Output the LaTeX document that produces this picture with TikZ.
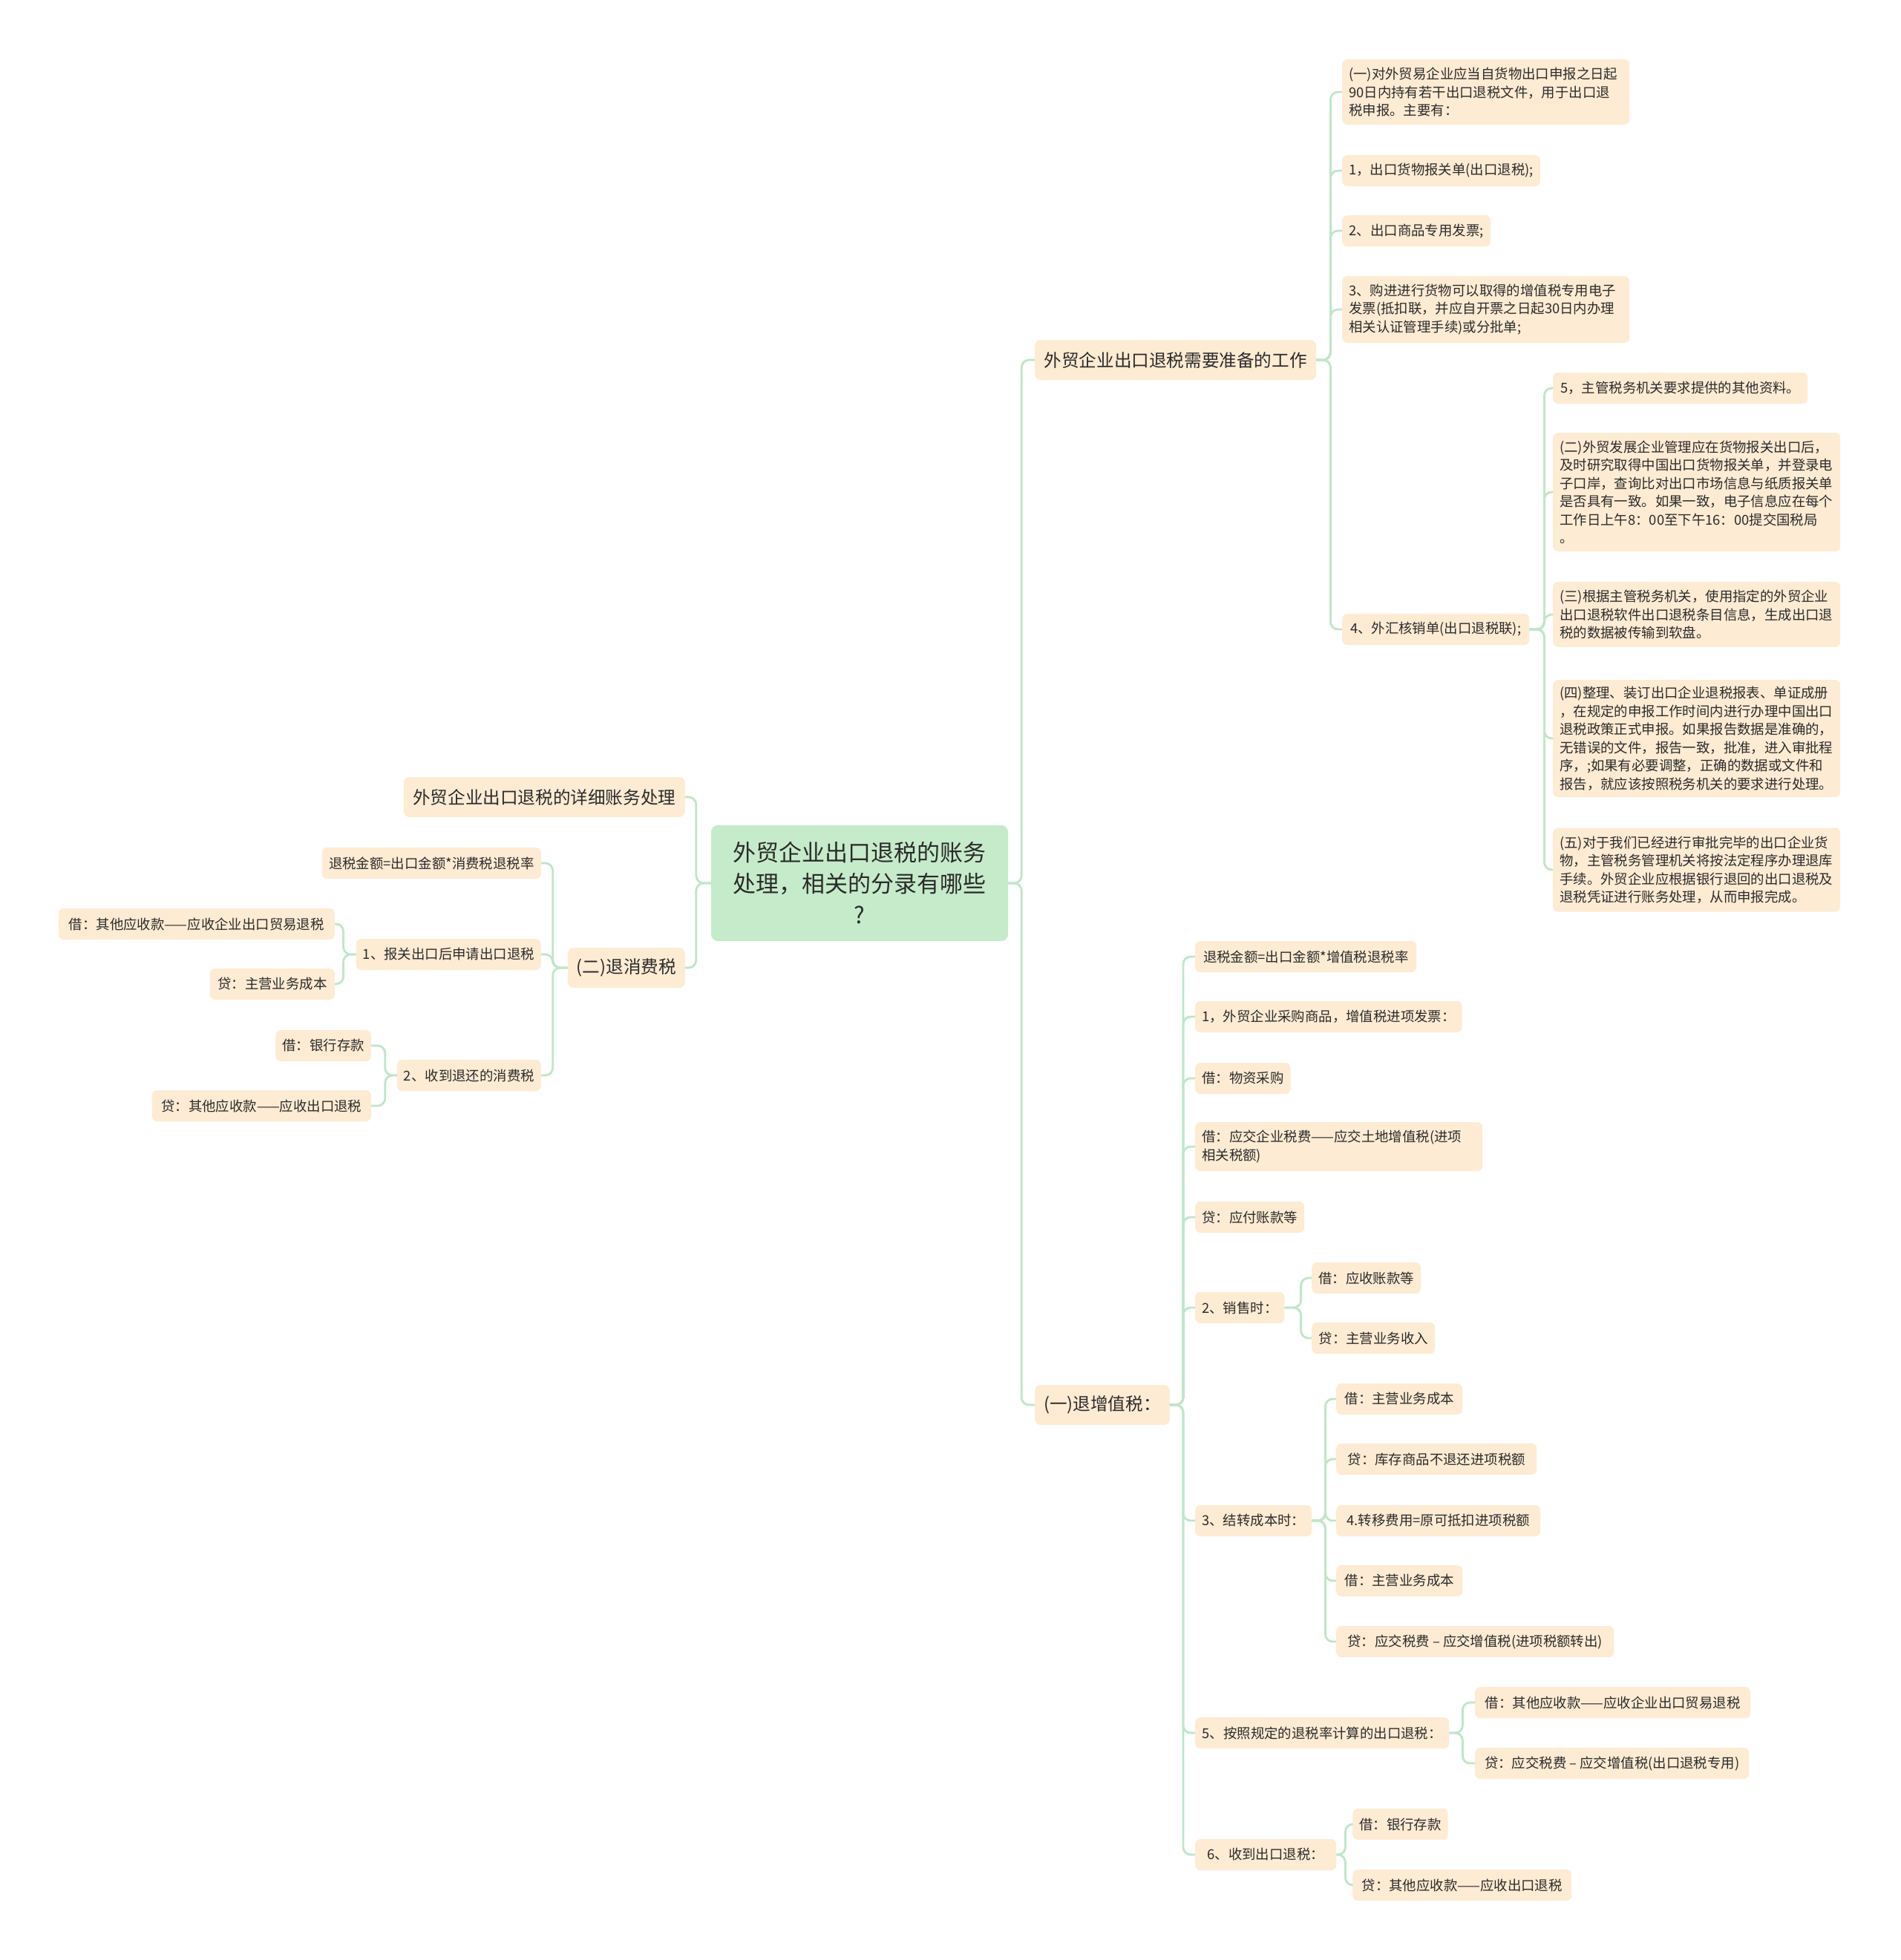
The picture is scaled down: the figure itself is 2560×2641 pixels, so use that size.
\documentclass[tikz,border=0pt]{standalone}
\usepackage{fontspec}
\setmainfont{Noto Sans CJK SC}
\definecolor{linec}{HTML}{BFE6C8}
\definecolor{leafc}{HTML}{FDEBD3}
\definecolor{rootc}{HTML}{C6EBCA}
\definecolor{txtc}{HTML}{2B2B2B}
\newcommand\leaffont{\fontsize{18.4}{24.5}\selectfont}
\newcommand\branchfont{\fontsize{23.6}{30}\selectfont}
\newcommand\rootfont{\fontsize{31}{42}\selectfont}
\tikzset{
  leaf/.style={fill=leafc, rounded corners=7pt, inner xsep=9pt, inner ysep=0pt,
    minimum height=42pt, text=txtc, font=\leaffont},
  rl/.style={leaf, anchor=west},
  ll/.style={leaf, anchor=east},
  multi/.style={align=left, text width=#1},
  branch/.style={fill=leafc, rounded corners=8pt, inner xsep=12pt, inner ysep=0pt,
    minimum height=54pt, text=txtc, font=\branchfont},
  rootbox/.style={fill=rootc, rounded corners=9pt, inner xsep=9pt, inner ysep=0pt,
    text=txtc, font=\rootfont, align=center},
  conn/.style={draw=linec, line width=2.8pt, rounded corners=10pt},
}
\begin{document}
\begin{tikzpicture}[x=1pt,y=-1pt]
\fill[white] (0,0) rectangle (2560,2641);
\useasboundingbox (0,0) rectangle (2560,2641);

% root
\node[rootbox, minimum width=400pt, minimum height=156pt, text width=382pt] (root) at (1158,1190)
  {外贸企业出口退税的账务\\处理，相关的分录有哪些\\?};

% main branches
\node[branch, anchor=west, minimum width=379pt] (A) at (1394,485) {外贸企业出口退税需要准备的工作};
\node[branch, anchor=west, minimum width=181pt] (B) at (1394,1893) {(一)退增值税：};
\node[branch, anchor=east, minimum width=379pt] (L1) at (923,1074) {外贸企业出口退税的详细账务处理};
\node[branch, anchor=east, minimum width=157pt] (L2) at (923,1304) {(二)退消费税};

% A children
\node[rl, minimum width=387pt, minimum height=88pt, multi=369pt] (n1) at (1808,124)
  {(一)对外贸易企业应当自货物出口申报之日起\\90日内持有若干出口退税文件，用于出口退\\税申报。主要有：};
\node[rl, minimum width=264pt] (n2) at (1808,230) {1，出口货物报关单(出口退税);};
\node[rl, minimum width=200pt] (n3) at (1808,311) {2、出口商品专用发票;};
\node[rl, minimum width=387pt, minimum height=90pt, multi=369pt] (n4) at (1808,417)
  {3、购进进行货物可以取得的增值税专用电子\\发票(抵扣联，并应自开票之日起30日内办理\\相关认证管理手续)或分批单;};
\node[rl, minimum width=252pt] (n5) at (1808,848) {4、外汇核销单(出口退税联);};

% n5 children
\node[rl, minimum width=343pt] (c1) at (2092,523) {5，主管税务机关要求提供的其他资料。};
\node[rl, minimum width=387pt, minimum height=160pt, multi=369pt] (c2) at (2092,663)
  {(二)外贸发展企业管理应在货物报关出口后，\\及时研究取得中国出口货物报关单，并登录电\\子口岸，查询比对出口市场信息与纸质报关单\\是否具有一致。如果一致，电子信息应在每个\\工作日上午8：00至下午16：00提交国税局\\。};
\node[rl, minimum width=387pt, minimum height=88pt, multi=369pt] (c3) at (2092,828)
  {(三)根据主管税务机关，使用指定的外贸企业\\出口退税软件出口退税条目信息，生成出口退\\税的数据被传输到软盘。};
\node[rl, minimum width=387pt, minimum height=158pt, multi=369pt] (c4) at (2092,995)
  {(四)整理、装订出口企业退税报表、单证成册\\，在规定的申报工作时间内进行办理中国出口\\退税政策正式申报。如果报告数据是准确的，\\无错误的文件，报告一致，批准，进入审批程\\序，;如果有必要调整，正确的数据或文件和\\报告，就应该按照税务机关的要求进行处理。};
\node[rl, minimum width=387pt, minimum height=113pt, multi=369pt] (c5) at (2092,1172)
  {(五)对于我们已经进行审批完毕的出口企业货\\物，主管税务管理机关将按法定程序办理退库\\手续。外贸企业应根据银行退回的出口退税及\\退税凭证进行账务处理，从而申报完成。};

% left children
\node[ll, minimum width=295pt] (lt1) at (729,1163) {退税金额=出口金额*消费税退税率};
\node[ll, minimum width=246pt] (lt2) at (729,1286) {1、报关出口后申请出口退税};
\node[ll, minimum width=193pt] (lt3) at (729,1449) {2、收到退还的消费税};
\node[ll, minimum width=372pt] (lt2a) at (451,1245) {借：其他应收款——应收企业出口贸易退税};
\node[ll, minimum width=168pt] (lt2b) at (451,1326) {贷：主营业务成本};
\node[ll, minimum width=128pt] (lt3a) at (500,1409) {借：银行存款};
\node[ll, minimum width=295pt] (lt3b) at (500,1490) {贷：其他应收款——应收出口退税};

% B children
\node[rl, minimum width=298pt] (r1) at (1610,1289) {退税金额=出口金额*增值税退税率};
\node[rl, minimum width=357pt] (r2) at (1610,1370) {1，外贸企业采购商品，增值税进项发票：};
\node[rl, minimum width=125pt] (r3) at (1610,1453) {借：物资采购};
\node[rl, minimum width=387pt, minimum height=66pt, multi=369pt] (r4) at (1610,1545)
  {借：应交企业税费——应交土地增值税(进项\\相关税额)};
\node[rl, minimum width=147pt] (r5) at (1610,1640) {贷：应付账款等};
\node[rl, minimum width=120pt] (r6) at (1610,1762) {2、销售时：};
\node[rl, minimum width=146pt] (r6a) at (1767,1722) {借：应收账款等};
\node[rl, minimum width=166pt] (r6b) at (1767,1803) {贷：主营业务收入};
\node[rl, minimum width=157pt] (r7) at (1610,2049) {3、结转成本时：};
\node[rl, minimum width=170pt] (r7a) at (1800,1885) {借：主营业务成本};
\node[rl, minimum width=270pt] (r7b) at (1800,1966) {贷：库存商品不退还进项税额};
\node[rl, minimum width=275pt] (r7c) at (1800,2049) {4.转移费用=原可抵扣进项税额};
\node[rl, minimum width=170pt] (r7d) at (1800,2130) {借：主营业务成本};
\node[rl, minimum width=374pt] (r7e) at (1800,2212) {贷：应交税费 – 应交增值税(进项税额转出)};
\node[rl, minimum width=342pt] (r8) at (1610,2335) {5、按照规定的退税率计算的出口退税：};
\node[rl, minimum width=371pt] (r8a) at (1987,2294) {借：其他应收款——应收企业出口贸易退税};
\node[rl, minimum width=369pt] (r8b) at (1987,2376) {贷：应交税费 – 应交增值税(出口退税专用)};
\node[rl, minimum width=190pt] (r9) at (1610,2499) {6、收到出口退税：};
\node[rl, minimum width=128pt] (r9a) at (1822,2458) {借：银行存款};
\node[rl, minimum width=295pt] (r9b) at (1822,2540) {贷：其他应收款——应收出口退税};

% connectors
\foreach \c in {A,B} \draw[conn] (root.east) -- ++(18,0) |- (\c.west);
\foreach \c in {L1,L2} \draw[conn] (root.west) -- ++(-20,0) |- (\c.east);
\foreach \c in {n1,n2,n3,n4,n5} \draw[conn] (A.east) -- ++(19,0) |- (\c.west);
\foreach \c in {c1,c2,c3,c4,c5} \draw[conn] (n5.east) -- ++(20,0) |- (\c.west);
\foreach \c in {lt1,lt2,lt3} \draw[conn] (L2.west) -- ++(-20,0) |- (\c.east);
\foreach \c in {lt2a,lt2b} \draw[conn] (lt2.west) -- ++(-17,0) |- (\c.east);
\foreach \c in {lt3a,lt3b} \draw[conn] (lt3.west) -- ++(-16,0) |- (\c.east);
\foreach \c in {r1,r2,r3,r4,r5,r6,r7,r8,r9} \draw[conn] (B.east) -- ++(18,0) |- (\c.west);
\foreach \c in {r6a,r6b} \draw[conn] (r6.east) -- ++(22,0) |- (\c.west);
\foreach \c in {r7a,r7b,r7c,r7d,r7e} \draw[conn] (r7.east) -- ++(18,0) |- (\c.west);
\foreach \c in {r8a,r8b} \draw[conn] (r8.east) -- ++(18,0) |- (\c.west);
\foreach \c in {r9a,r9b} \draw[conn] (r9.east) -- ++(12,0) |- (\c.west);
\end{tikzpicture}
\end{document}
